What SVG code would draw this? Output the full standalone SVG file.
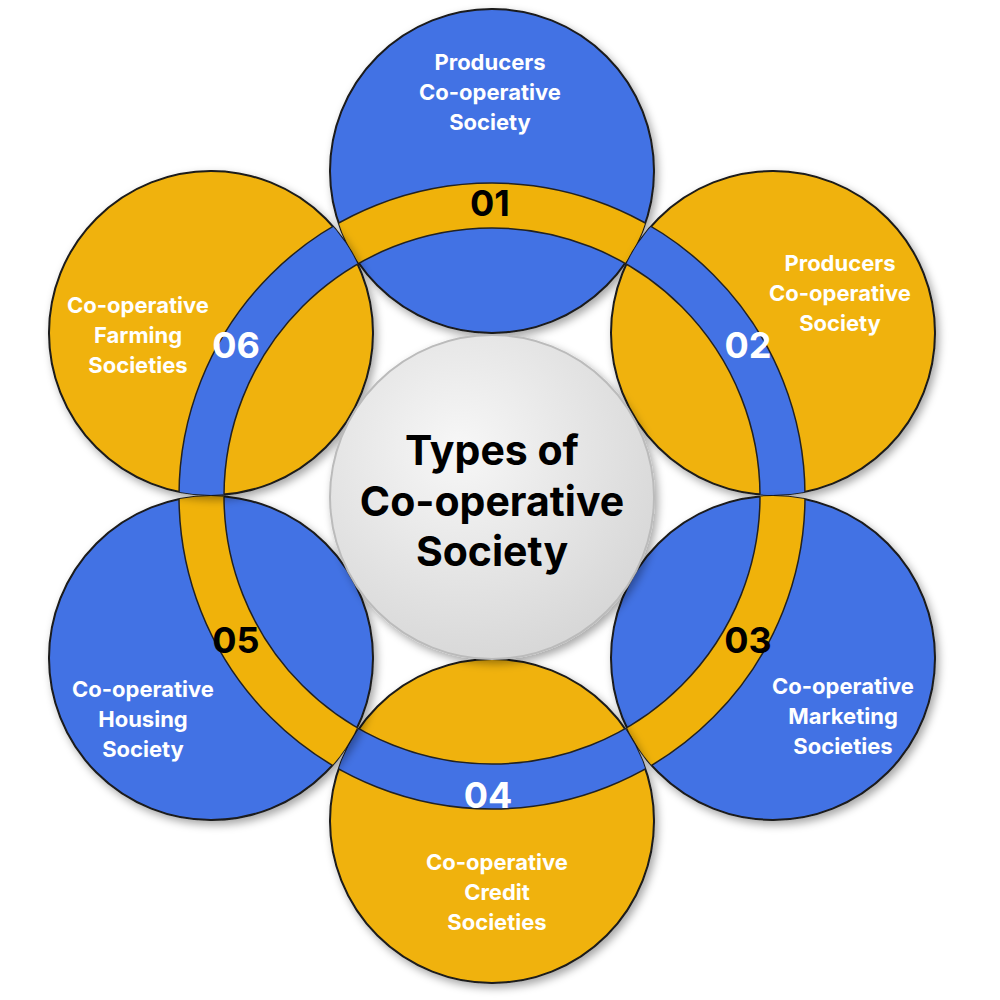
<svg xmlns="http://www.w3.org/2000/svg" width="1000" height="1000" viewBox="0 0 1000 1000">
<style>
.b{fill:#4372e4}.y{fill:#f0b20a}
.c{stroke:#1a1a1a;stroke-width:2}
.t{font-family:Inter,"Open Sans","Liberation Sans",sans-serif;font-weight:bold;font-size:22px;fill:#fff;text-anchor:middle}
.n{font-family:Inter,"Open Sans","Liberation Sans",sans-serif;font-weight:bold;font-size:36px;text-anchor:middle}
.ct{font-family:Inter,"Open Sans","Liberation Sans",sans-serif;font-weight:bold;font-size:41px;fill:#000;text-anchor:middle}
.ring{fill-rule:evenodd}
.rl{fill:none;stroke:#222;stroke-width:1.5}
</style>
<defs>
<filter id="sh" x="-20%" y="-20%" width="140%" height="140%"><feDropShadow dx="3" dy="4" stdDeviation="4" flood-opacity="0.35"/></filter>
<radialGradient id="g" cx="0.4" cy="0.35" r="0.7"><stop offset="0" stop-color="#f7f7f7"/><stop offset="1" stop-color="#d6d6d6"/></radialGradient>
<path id="ann" d="M492,183a313,313 0 1,0 0.01,0ZM492,228a268,268 0 1,0 0.01,0Z"/>
<clipPath id="k1"><circle cx="492" cy="171" r="162"/></clipPath>
<clipPath id="k2"><circle cx="773" cy="333" r="162"/></clipPath>
<clipPath id="k3"><circle cx="773" cy="658" r="162"/></clipPath>
<clipPath id="k4"><circle cx="492" cy="821" r="162"/></clipPath>
<clipPath id="k5"><circle cx="211" cy="658" r="162"/></clipPath>
<clipPath id="k6"><circle cx="211" cy="333" r="162"/></clipPath>
</defs>
<g id="node1"><circle class="b c" cx="492" cy="171" r="162" filter="url(#sh)"/><g clip-path="url(#k1)"><use href="#ann" class="y ring"/><circle class="rl" cx="492" cy="496" r="313"/><circle class="rl" cx="492" cy="496" r="268"/></g>
<text class="t" x="490" y="70">Producers</text><text class="t" x="490" y="100">Co-operative</text><text class="t" x="490" y="130">Society</text><text class="n" x="490" y="216" fill="#000">01</text></g>
<g id="node2"><circle class="y c" cx="773" cy="333" r="162" filter="url(#sh)"/><g clip-path="url(#k2)"><use href="#ann" class="b ring"/><circle class="rl" cx="492" cy="496" r="313"/><circle class="rl" cx="492" cy="496" r="268"/></g>
<text class="t" x="840" y="271">Producers</text><text class="t" x="840" y="301">Co-operative</text><text class="t" x="840" y="331">Society</text><text class="n" x="748" y="358" fill="#fff">02</text></g>
<g id="node3"><circle class="b c" cx="773" cy="658" r="162" filter="url(#sh)"/><g clip-path="url(#k3)"><use href="#ann" class="y ring"/><circle class="rl" cx="492" cy="496" r="313"/><circle class="rl" cx="492" cy="496" r="268"/></g>
<text class="t" x="843" y="694">Co-operative</text><text class="t" x="843" y="724">Marketing</text><text class="t" x="843" y="754">Societies</text><text class="n" x="748" y="653" fill="#000">03</text></g>
<g id="node4"><circle class="y c" cx="492" cy="821" r="162" filter="url(#sh)"/><g clip-path="url(#k4)"><use href="#ann" class="b ring"/><circle class="rl" cx="492" cy="496" r="313"/><circle class="rl" cx="492" cy="496" r="268"/></g>
<text class="t" x="497" y="870">Co-operative</text><text class="t" x="497" y="900">Credit</text><text class="t" x="497" y="930">Societies</text><text class="n" x="488" y="808" fill="#fff">04</text></g>
<g id="node5"><circle class="b c" cx="211" cy="658" r="162" filter="url(#sh)"/><g clip-path="url(#k5)"><use href="#ann" class="y ring"/><circle class="rl" cx="492" cy="496" r="313"/><circle class="rl" cx="492" cy="496" r="268"/></g>
<text class="t" x="143" y="697">Co-operative</text><text class="t" x="143" y="727">Housing</text><text class="t" x="143" y="757">Society</text><text class="n" x="236" y="653" fill="#000">05</text></g>
<g id="node6"><circle class="y c" cx="211" cy="333" r="162" filter="url(#sh)"/><g clip-path="url(#k6)"><use href="#ann" class="b ring"/><circle class="rl" cx="492" cy="496" r="313"/><circle class="rl" cx="492" cy="496" r="268"/></g>
<text class="t" x="138" y="313">Co-operative</text><text class="t" x="138" y="343">Farming</text><text class="t" x="138" y="373">Societies</text><text class="n" x="236" y="358" fill="#fff">06</text></g>
<g id="center"><circle cx="492" cy="497" r="162" fill="url(#g)" stroke="#bbb" stroke-width="2" filter="url(#sh)"/>
<text class="ct" x="492" y="465">Types of</text><text class="ct" x="492" y="516">Co-operative</text><text class="ct" x="492" y="566">Society</text></g>
<g id="connectors"></g>
</svg>
